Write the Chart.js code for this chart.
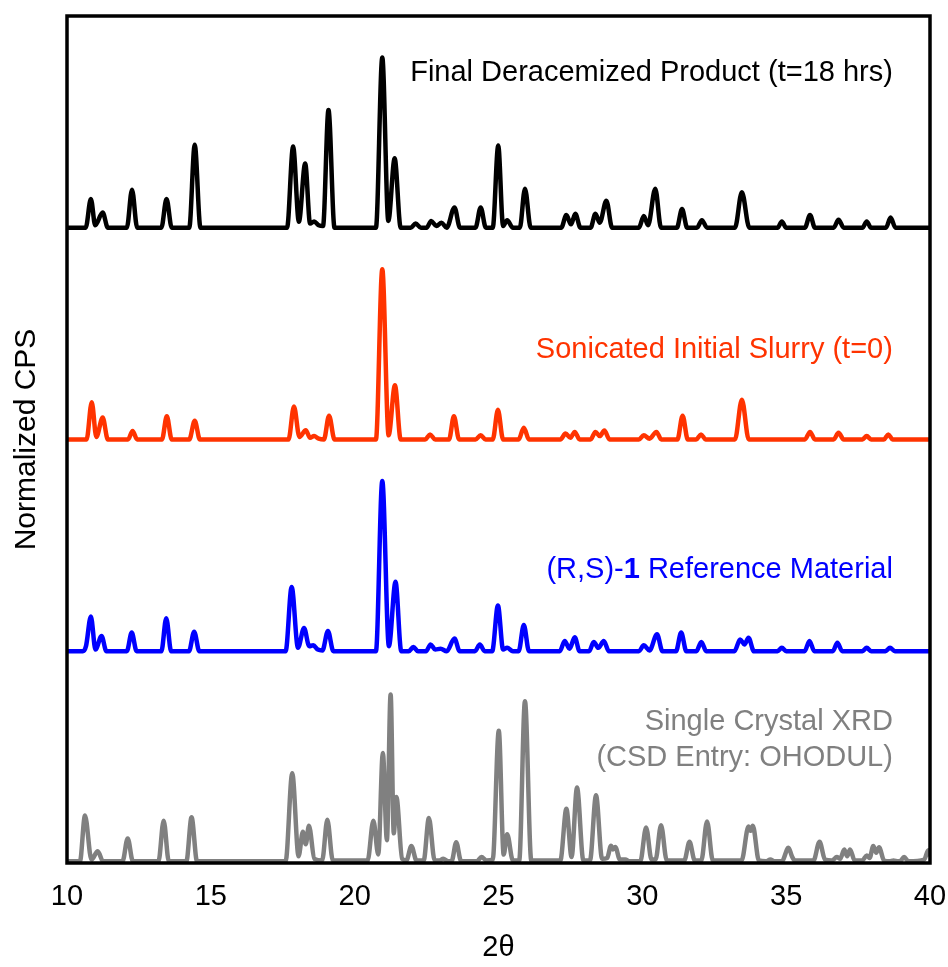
<!DOCTYPE html>
<html>
<head>
<meta charset="utf-8">
<script src="https://cdn.jsdelivr.net/npm/chart.js@4"></script>
<style>
  body { margin: 0; background: #fff; }
</style>
</head>
<body>
<canvas id="xrdChart" width="948" height="967"></canvas>
<script>
// patrones de difraccion (2theta, intensidad sobre la linea base)
const finalX = [10, 10.65, 10.83, 10.98, 11.24, 11.42, 12.08, 12.26, 12.44, 13.28, 13.46, 13.64, 14.25, 14.44, 14.64,
  17.65, 17.86, 18.06, 18.28, 18.45, 18.59, 18.75, 18.9, 19.09, 19.3, 20.74, 20.96, 21.17, 21.39, 21.6,
  21.95, 22.12, 22.3, 22.5, 22.66, 22.84, 23.02, 23.2, 23.47, 23.66, 24.2, 24.38, 24.56, 24.8, 24.99, 25.16, 25.3, 25.5,
  25.74, 25.92, 26.12, 27.18, 27.36, 27.52, 27.67, 27.85, 28.2, 28.37, 28.52, 28.75, 28.95,
  29.88, 30.05, 30.2, 30.45, 30.65, 31.2, 31.38, 31.56, 31.9, 32.07, 32.25, 33.22, 33.46, 33.72,
  34.7, 34.85, 35.0, 35.65, 35.83, 36.0, 36.65, 36.82, 37.0, 37.65, 37.8, 37.95, 38.47, 38.63, 38.8, 40];
const finalY = [0, 0, 3.4, 0.3, 1.8, 0, 0, 4.5, 0, 0, 3.4, 0, 0, 9.8, 0,
  0, 9.6, 0.7, 7.6, 0.5, 0.75, 0.3, 0.2, 13.9, 0, 0, 20.1, 0.8, 8.2, 0,
  0, 0.5, 0, 0, 0.8, 0.2, 0.6, 0, 2.4, 0, 0, 2.4, 0, 0, 9.7, 0.2, 0.9, 0,
  0, 4.6, 0, 0, 1.5, 0.4, 1.65, 0, 0, 1.65, 0.6, 3.2, 0,
  0, 1.4, 0.3, 4.6, 0, 0, 2.2, 0, 0, 0.9, 0, 0, 4.2, 0,
  0, 0.75, 0, 0, 1.5, 0, 0, 0.95, 0, 0, 0.75, 0, 0, 1.2, 0, 0];

const slurryX = [10, 10.68, 10.86, 11.02, 11.24, 11.42, 12.12, 12.28, 12.44, 13.3, 13.47, 13.64, 14.25, 14.44, 14.62,
  17.7, 17.89, 18.08, 18.3, 18.45, 18.59, 18.75, 18.93, 19.11, 19.3, 20.74, 20.96, 21.18, 21.4, 21.6,
  22.45, 22.62, 22.8, 23.28, 23.45, 23.63, 24.2, 24.38, 24.55, 24.8, 24.98, 25.16, 25.7, 25.88, 26.06,
  27.15, 27.33, 27.5, 27.65, 27.82, 28.2, 28.37, 28.52, 28.68, 28.86, 29.88, 30.05, 30.25, 30.49, 30.66,
  31.22, 31.4, 31.58, 31.87, 32.04, 32.2, 33.22, 33.46, 33.7, 35.65, 35.83, 36.0, 36.65, 36.82, 37.0,
  37.65, 37.8, 37.95, 38.4, 38.55, 38.7, 40];
const slurryY = [0, 0, 4.4, 0.3, 2.6, 0, 0, 1.0, 0, 0, 2.75, 0, 0, 2.2, 0,
  0, 3.9, 0.3, 1.1, 0.2, 0.4, 0.1, 0, 2.8, 0, 0, 20.1, 0.5, 6.4, 0,
  0, 0.6, 0, 0, 2.75, 0, 0, 0.5, 0, 0, 3.5, 0, 0, 1.4, 0,
  0, 0.7, 0.2, 0.9, 0, 0, 0.9, 0.4, 1.05, 0, 0, 0.5, 0.1, 0.9, 0,
  0, 2.8, 0, 0, 0.6, 0, 0, 4.7, 0, 0, 0.9, 0, 0, 0.8, 0,
  0, 0.4, 0, 0, 0.6, 0, 0];

const referenceX = [10, 10.55, 10.66, 10.83, 10.99, 11.2, 11.37, 12.08, 12.25, 12.42, 13.28, 13.45, 13.62, 14.24, 14.42, 14.6,
  17.6, 17.81, 18.03, 18.24, 18.42, 18.56, 18.72, 18.88, 19.07, 19.26, 20.74, 20.96, 21.19, 21.42, 21.62,
  21.88, 22.04, 22.2, 22.48, 22.64, 22.8, 22.99, 23.2, 23.47, 23.65, 24.18, 24.35, 24.52, 24.78, 24.98, 25.16, 25.3, 25.5,
  25.7, 25.88, 26.06, 27.13, 27.3, 27.47, 27.65, 27.82, 28.15, 28.31, 28.47, 28.66, 28.84,
  29.88, 30.05, 30.25, 30.51, 30.7, 31.17, 31.35, 31.53, 31.88, 32.05, 32.22, 33.2, 33.4, 33.55, 33.69, 33.88,
  34.7, 34.85, 35.0, 35.64, 35.81, 35.98, 36.62, 36.78, 36.95, 37.65, 37.8, 37.95, 38.45, 38.61, 38.78, 40];
const referenceY = [0, 0, 0.6, 4.1, 0.2, 1.8, 0, 0, 2.2, 0, 0, 3.9, 0, 0, 2.3, 0,
  0, 7.6, 0.4, 2.75, 0.6, 0.7, 0.2, 0.1, 2.4, 0, 0, 20.1, 0.6, 8.2, 0,
  0, 0.5, 0, 0, 0.8, 0.2, 0.3, 0, 1.5, 0, 0, 0.8, 0, 0, 5.4, 0.2, 0.4, 0,
  0, 3.1, 0, 0, 1.2, 0.3, 1.65, 0, 0, 1.1, 0.4, 1.2, 0,
  0, 0.7, 0.1, 2.0, 0, 0, 2.2, 0, 0, 1.1, 0, 0, 1.4, 0.8, 1.6, 0,
  0, 0.4, 0, 0, 1.2, 0, 0, 1.0, 0, 0, 0.4, 0, 0, 0.4, 0, 0];

const crystalX = [10, 10.45, 10.625, 10.85, 11.07, 11.25, 11.93, 12.11, 12.29, 13.18, 13.36, 13.54, 14.15, 14.33, 14.52,
  17.6, 17.83, 18.05, 18.2, 18.3, 18.41, 18.6, 18.87, 19.05, 19.24, 20.45, 20.65, 20.82, 20.98, 21.12, 21.25, 21.36, 21.45, 21.65,
  21.8, 21.97, 22.15, 22.4, 22.58, 22.78, 22.95, 23.08, 23.25, 23.37, 23.53, 23.7, 24.25, 24.41, 24.58, 24.8, 25.01, 25.18, 25.3, 25.5,
  25.72, 25.92, 26.14, 27.15, 27.36, 27.54, 27.73, 27.95, 28.18, 28.39, 28.6, 28.78, 28.91, 28.98, 29.06, 29.22, 29.41, 29.55,
  29.93, 30.13, 30.32, 30.46, 30.65, 30.85, 31.46, 31.64, 31.82, 32.05, 32.25, 32.45, 33.45, 33.69, 33.77, 33.84, 34.05,
  34.3, 34.45, 34.6, 34.85, 35.08, 35.2, 35.3, 35.95, 36.16, 36.35, 36.6, 36.76, 36.88, 37.02, 37.12, 37.22, 37.38,
  37.65, 37.8, 37.9, 38.03, 38.13, 38.23, 38.4, 38.6, 38.73, 38.88, 38.95, 39.1, 39.25, 39.8, 39.94, 40];
const crystalY = [0.2, 0.2, 5.6, 0.4, 1.4, 0.2, 0.2, 2.9, 0.2, 0.2, 5.0, 0.2, 0.2, 5.4, 0.2,
  0.2, 10.6, 0.8, 3.7, 2.2, 4.4, 0.5, 0.3, 5.1, 0.3, 0.3, 5.0, 1.0, 13.0, 2.7, 19.9, 3.5, 7.8, 0.5,
  0.3, 2.0, 0.3, 0.3, 5.3, 0.3, 0.3, 0.5, 0.2, 0.2, 2.45, 0.2, 0.2, 0.7, 0.3, 0.4, 15.6, 1.0, 3.4, 0.3,
  0.3, 19.1, 0.3, 0.3, 6.4, 0.7, 8.9, 0.3, 0.3, 8.0, 0.5, 0.6, 2.05, 1.6, 1.9, 0.4, 0.4, 0.2,
  0.2, 4.2, 0.4, 0.4, 4.45, 0.3, 0.3, 2.5, 0.3, 0.3, 4.9, 0.3, 0.3, 4.3, 3.8, 4.4, 0.3,
  0.2, 0.4, 0.2, 0.2, 1.8, 0.8, 0.3, 0.3, 2.5, 0.4, 0.3, 0.7, 0.5, 1.6, 0.8, 1.6, 0.3,
  0.3, 0.9, 0.6, 2.0, 1.2, 1.85, 0.3, 0.2, 0.3, 0.2, 0.2, 0.7, 0.2, 0.4, 1.5, 0.8];

// desplazamiento vertical de cada patron
const offsets = [75, 50, 25, 0];
const xTicks = [10, 15, 20, 25, 30, 35, 40];

const FONT = "'Liberation Sans', Arial, sans-serif";

function toPoints(xs, ys, off) {
  return xs.map((x, i) => ({ x: x, y: ys[i] + off }));
}

// etiquetas de texto y marco completo
const labelsPlugin = {
  id: "labels",
  afterDraw(chart) {
    const { ctx, chartArea, scales } = chart;
    const xr = scales.x.getPixelForValue(38.71);
    const py = v => scales.y.getPixelForValue(v);
    ctx.save();
    ctx.textBaseline = "middle";
    ctx.textAlign = "right";
    ctx.font = "29px " + FONT;
    ctx.fillStyle = "#000";
    ctx.fillText("Final Deracemized Product (t=18 hrs)", xr, py(93.3));
    ctx.fillStyle = "#ff3300";
    ctx.fillText("Sonicated Initial Slurry (t=0)", xr, py(60.6));
    // (R,S)-1 con el 1 en negrita
    ctx.fillStyle = "#0000ff";
    const yb = py(34.6);
    const tail = " Reference Material";
    ctx.fillText(tail, xr, yb);
    let x = xr - ctx.measureText(tail).width;
    ctx.font = "bold 29px " + FONT;
    ctx.fillText("1", x, yb);
    x -= ctx.measureText("1").width;
    ctx.font = "29px " + FONT;
    ctx.fillText("(R,S)-", x, yb);
    ctx.fillStyle = "#808080";
    ctx.fillText("Single Crystal XRD", xr, py(16.7));
    ctx.fillText("(CSD Entry: OHODUL)", xr, py(12.4));
    // marco
    ctx.strokeStyle = "#000";
    ctx.lineWidth = 3.5;
    ctx.strokeRect(chartArea.left, chartArea.top, chartArea.right - chartArea.left, chartArea.bottom - chartArea.top);
    ctx.restore();
  }
};

const ctx = document.getElementById("xrdChart").getContext("2d");
const xrdChart = new Chart(ctx, {
  type: "line",
  data: {
    datasets: [
      { label: "Final", data: toPoints(finalX, finalY, offsets[0]), borderColor: "#000000" },
      { label: "Slurry", data: toPoints(slurryX, slurryY, offsets[1]), borderColor: "#ff3300" },
      { label: "Reference", data: toPoints(referenceX, referenceY, offsets[2]), borderColor: "#0000ff" },
      { label: "Crystal", data: toPoints(crystalX, crystalY, offsets[3]), borderColor: "#808080" }
    ]
  },
  options: {
    responsive: false,
    animation: false,
    devicePixelRatio: 1,
    layout: { padding: { left: 0, right: 18, top: 16, bottom: 0 } },
    elements: {
      point: { radius: 0 },
      line: { borderWidth: 4.5, cubicInterpolationMode: "monotone", fill: false }
    },
    plugins: {
      legend: { display: false },
      tooltip: { enabled: false }
    },
    scales: {
      x: {
        type: "linear",
        min: 10,
        max: 40,
        afterBuildTicks: axis => { axis.ticks = xTicks.map(v => ({ value: v })); },
        afterFit: axis => { axis.height = 104; axis.paddingRight = 0; axis.paddingLeft = 0; },
        grid: { display: false, drawTicks: false },
        border: { display: false },
        ticks: { color: "#000", padding: 17, font: { family: FONT, size: 29 }, maxRotation: 0 },
        title: { display: true, text: "2θ", color: "#000", font: { family: FONT, size: 29 }, padding: { top: 0, bottom: 2 } }
      },
      y: {
        min: 0,
        max: 100,
        afterFit: axis => { axis.width = 67; },
        grid: { display: false, drawTicks: false },
        border: { display: false },
        ticks: { display: false },
        title: { display: true, text: "Normalized CPS", color: "#000", font: { family: FONT, size: 30 }, padding: { top: 9, bottom: 0 } }
      }
    }
  },
  plugins: [labelsPlugin]
});
</script>
</body>
</html>
